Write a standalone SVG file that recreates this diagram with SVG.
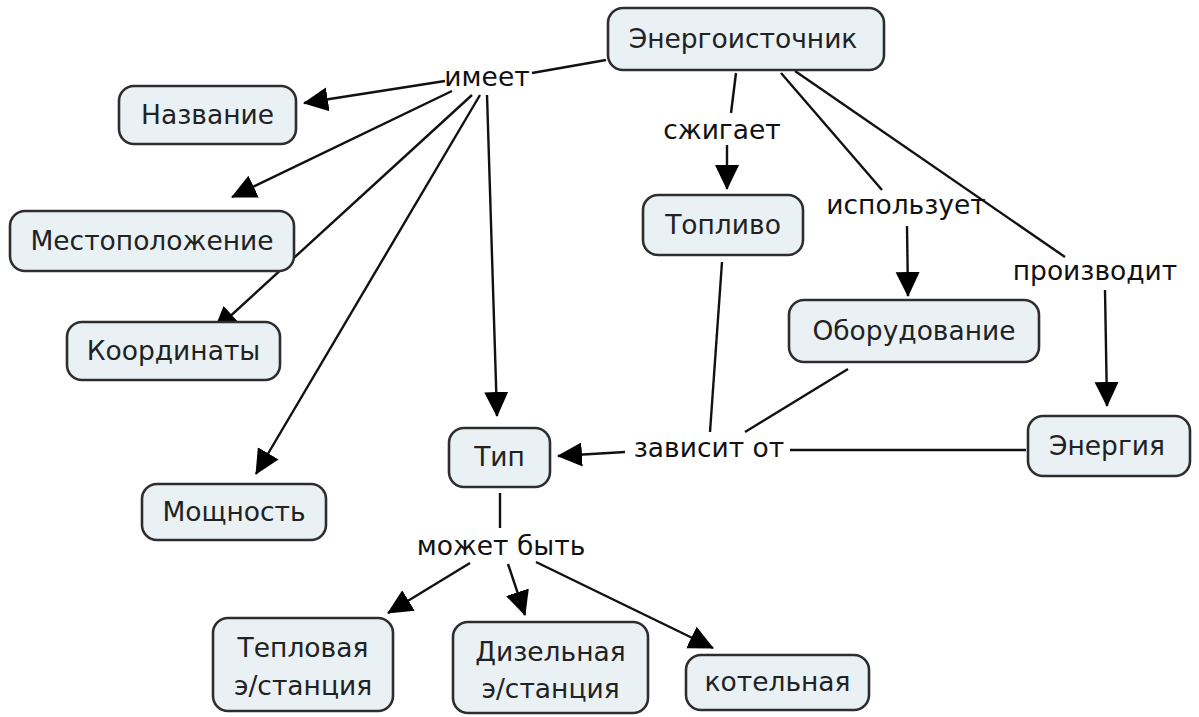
<svg xmlns="http://www.w3.org/2000/svg" width="1199" height="717" viewBox="0 0 1199 717">
  <style>
    .node rect { fill: #e9f1f5; stroke: #2e2e2e; stroke-width: 2.6; }
    text { font-family: "DejaVu Sans", Verdana, sans-serif; font-size: 26.5px; fill: #222; text-anchor: middle; dominant-baseline: central; }
    .label { fill: #111; }
    #connectors line { stroke: #111; stroke-width: 2.4; fill: none; }
    #connectors .arr { marker-end: url(#head); }
  </style>
  <defs>
    <marker id="head" markerUnits="userSpaceOnUse" markerWidth="26" markerHeight="26" viewBox="0 0 26 26" refX="24" refY="13" orient="auto">
      <path d="M0,1 L25,13 L0,25 Z" fill="#000"/>
    </marker>
  </defs>
  <rect width="1199" height="717" fill="#fff"/>

  <g id="connectors">
    <line x1="606" y1="60" x2="532" y2="73"/>
    <line class="arr" x1="445" y1="81" x2="304" y2="103"/>
    <line class="arr" x1="452" y1="91" x2="232" y2="197"/>
    <line class="arr" x1="472" y1="95" x2="214" y2="331"/>
    <line class="arr" x1="480" y1="95" x2="256" y2="474"/>
    <line class="arr" x1="487" y1="95" x2="497" y2="416"/>

    <line x1="736" y1="73" x2="731" y2="113"/>
    <line class="arr" x1="727" y1="145" x2="727" y2="189"/>

    <line x1="781" y1="73" x2="882" y2="190"/>
    <line class="arr" x1="907" y1="226" x2="908" y2="296"/>

    <line x1="795" y1="71" x2="1065" y2="257"/>
    <line class="arr" x1="1105" y1="290" x2="1107" y2="406"/>

    <line x1="722" y1="262" x2="710" y2="432"/>
    <line x1="848" y1="369" x2="745" y2="432"/>
    <line x1="1026" y1="450" x2="790" y2="450"/>
    <line class="arr" x1="625" y1="452" x2="558" y2="456"/>

    <line x1="500" y1="493" x2="500" y2="528"/>
    <line class="arr" x1="470" y1="563" x2="388" y2="613"/>
    <line class="arr" x1="508" y1="564" x2="525" y2="615"/>
    <line class="arr" x1="536" y1="562" x2="713" y2="648"/>
  </g>

  <g id="n-source" class="node"><rect x="608" y="8" width="276" height="62" rx="15"/><text x="743" y="38">Энергоисточник</text></g>
  <g id="n-name" class="node"><rect x="119" y="86" width="177" height="58" rx="15"/><text x="207.5" y="114">Название</text></g>
  <g id="n-location" class="node"><rect x="10" y="211" width="284" height="60" rx="15"/><text x="152" y="240">Местоположение</text></g>
  <g id="n-coords" class="node"><rect x="67" y="322" width="213" height="58" rx="15"/><text x="173.5" y="350">Координаты</text></g>
  <g id="n-power" class="node"><rect x="142" y="484" width="184" height="56" rx="15"/><text x="234" y="511">Мощность</text></g>
  <g id="n-type" class="node"><rect x="449" y="428" width="101" height="59" rx="15"/><text x="499.5" y="456.5">Тип</text></g>
  <g id="n-fuel" class="node"><rect x="643" y="195" width="160" height="60" rx="15"/><text x="723" y="224">Топливо</text></g>
  <g id="n-equip" class="node"><rect x="789" y="300" width="250" height="62" rx="15"/><text x="914" y="330">Оборудование</text></g>
  <g id="n-energy" class="node"><rect x="1028" y="416" width="162" height="60" rx="15"/><text x="1107" y="445">Энергия</text></g>
  <g id="n-thermal" class="node"><rect x="213" y="618" width="180" height="93" rx="15"/><text x="303" y="647">Тепловая</text><text x="303" y="685">э/станция</text></g>
  <g id="n-diesel" class="node"><rect x="453" y="622" width="195" height="91" rx="15"/><text x="550.5" y="651">Дизельная</text><text x="550.5" y="688">э/станция</text></g>
  <g id="n-boiler" class="node"><rect x="686" y="655" width="183" height="55" rx="15"/><text x="777.5" y="681.5">котельная</text></g>

  <g id="labels">
    <text class="label" x="487" y="76">имеет</text>
    <text class="label" x="722" y="129">сжигает</text>
    <text class="label" x="906" y="204">использует</text>
    <text class="label" x="1095" y="270">производит</text>
    <text class="label" x="709" y="447">зависит от</text>
    <text class="label" x="501" y="545">может быть</text>
  </g>
</svg>
